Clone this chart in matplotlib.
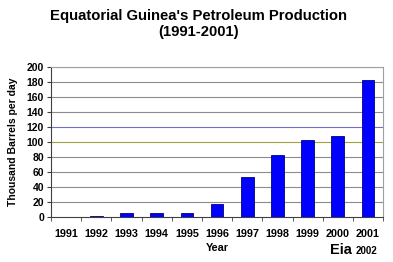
import matplotlib
matplotlib.use("Agg")
import matplotlib.pyplot as plt

# Petroleum production, thousand barrels per day
years = ["1991", "1992", "1993", "1994", "1995", "1996",
         "1997", "1998", "1999", "2000", "2001"]
production = [0, 1, 4.5, 5.5, 5.5, 17, 53, 82.5, 102, 108, 182]
y_ticks = list(range(0, 201, 20))

plt.rcParams["font.family"] = ["Liberation Sans", "DejaVu Sans"]

fig = plt.figure(figsize=(3.93, 2.62), dpi=100)
ax = fig.add_axes([0.1298, 0.173, 0.845, 0.572])

x = list(range(len(years)))
ax.bar(x, production, width=0.42, color="#0000ff", edgecolor="#000080", linewidth=0.6, zorder=3)

ax.set_xlim(-0.5, len(years) - 0.5)
ax.set_ylim(0, 200)
ax.set_yticks(y_ticks)
ax.set_yticklabels([str(v) for v in y_ticks], fontsize=7.5, fontweight="bold")

# gridlines, a couple of them tinted like the original
for v in y_ticks[1:]:
    col = "#8c8c8c"
    if v == 120:
        col = "#7070d0"
    elif v == 100:
        col = "#a0a040"
    ax.axhline(v, color=col, linewidth=0.8, zorder=1)

ax.set_xticks(x)
ax.set_xticklabels(years, fontsize=7.8, fontweight="bold")
ax.set_xticks([i + 0.5 for i in x[:-1]] + [-0.5, len(years) - 0.5], minor=True)
ax.tick_params(axis="x", which="major", length=0, pad=9)
ax.tick_params(axis="x", which="minor", length=3, color="#404040", direction="out")
ax.tick_params(axis="y", length=3, color="#404040", pad=2)

for side in ["top", "right"]:
    ax.spines[side].set_color("#a0a0a0")
    ax.spines[side].set_linewidth(0.8)
for side in ["left", "bottom"]:
    ax.spines[side].set_color("#404040")
    ax.spines[side].set_linewidth(0.8)

ax.set_ylabel("Thousand Barrels per day", fontsize=7.5, fontweight="bold", labelpad=6)
ax.set_xlabel("Year", fontsize=7.8, fontweight="bold", labelpad=3)

fig.text(0.505, 0.908, "Equatorial Guinea's Petroleum Production\n(1991-2001)",
         ha="center", va="center", fontsize=10.7, fontweight="bold", linespacing=1.2)
fig.text(0.84, 0.03, "Eia", fontsize=10.5, fontweight="bold", ha="left", va="baseline")
fig.text(0.905, 0.03, "2002", fontsize=7, fontweight="bold", ha="left", va="baseline")

fig.savefig("out.png", dpi=100)
